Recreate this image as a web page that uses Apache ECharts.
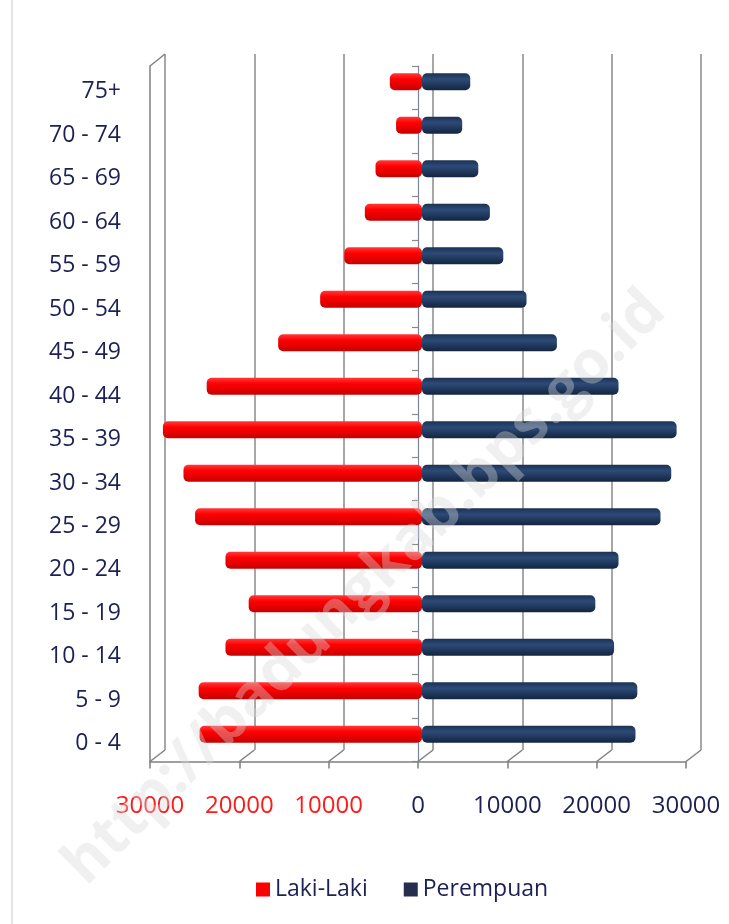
<!DOCTYPE html>
<html><head><meta charset="utf-8">
<script src="https://cdn.jsdelivr.net/npm/echarts@6/dist/echarts.min.js"></script>
<style>html,body{margin:0;padding:0;background:#fff}#c{width:729px;height:924px}</style>
</head><body><div id="c"></div>
<script>
// ---- data ----
const categories = ['0 - 4','5 - 9','10 - 14','15 - 19','20 - 24','25 - 29','30 - 34','35 - 39','40 - 44','45 - 49','50 - 54','55 - 59','60 - 64','65 - 69','70 - 74','75+'];
const maleValues   = [24900, 25000, 22000, 19400, 22000, 25400, 26700, 29000, 24100, 16100, 11400, 8700, 6400, 5200, 2900, 3600];
const femaleValues = [23900, 24100, 21500, 19400, 22000, 26700, 27900, 28500, 22000, 15100, 11700, 9100, 7600, 6300, 4500, 5400];
const tickValues = [-30000, -20000, -10000, 0, 10000, 20000, 30000];
const seriesNames = ['Laki-Laki', 'Perempuan'];
const watermark = 'http://badungkab.bps.go.id';

// ---- style ----
const FONT = "'Open Sans', 'Noto Sans', sans-serif";
const NAVY_TEXT = '#1c2054';
const RED_TEXT = '#ff1a1a';
const GRID_GRAY = '#8a8a8a';
const FRAME_GRAY = '#7f7f7f';
const AX_MIN = tickValues[0], AX_MAX = tickValues[tickValues.length - 1], AX_INT = 10000;

const front  = {left: 150, width: 536, top: 66, height: 695.5};
const back   = {left: 165, width: 536, top: 54, height: 696};
const bars   = {left: 154, width: 536, top: 60, height: 696};
const labels = {left: 150, width: 536, top: 70, height: 695.5};

const redGrad = new echarts.graphic.LinearGradient(0, 0, 0, 1, [
  {offset: 0, color: '#ff3a3a'}, {offset: 0.35, color: '#ff0000'}, {offset: 1, color: '#c80000'}]);
const navyGrad = new echarts.graphic.LinearGradient(0, 0, 0, 1, [
  {offset: 0, color: '#1b3152'}, {offset: 0.35, color: '#2d4b78'}, {offset: 1, color: '#132440'}]);

function valueAxis(gridIndex, extra) {
  return Object.assign({
    type: 'value', gridIndex, min: AX_MIN, max: AX_MAX, interval: AX_INT,
    axisLine: {show: false}, axisTick: {show: false}, axisLabel: {show: false}, splitLine: {show: false}
  }, extra || {});
}

// decorative 3D frame connectors, derived from the front/back grid layouts
const frameGraphics = [];
const depthDx = back.left - front.left;
tickValues.forEach(v => {
  const fx = front.left + (v - AX_MIN) / (AX_MAX - AX_MIN) * front.width;
  const fy = front.top + front.height;
  frameGraphics.push({type: 'line', shape: {x1: fx, y1: fy, x2: fx + depthDx, y2: back.top + back.height},
    style: {stroke: FRAME_GRAY, lineWidth: 1.5}, z: 5});
});
frameGraphics.push({type: 'line', shape: {x1: front.left, y1: front.top, x2: back.left, y2: back.top},
  style: {stroke: FRAME_GRAY, lineWidth: 1.5}, z: 5});
frameGraphics.push({type: 'line', shape: {x1: 12, y1: 0, x2: 12, y2: 924},
  style: {stroke: '#dcdcdc', lineWidth: 1.5}, z: 1});
frameGraphics.push({type: 'text', x: 365, y: 588, rotation: Math.PI / 4 * 0.99, z: 100,
  style: {text: watermark, font: "bold 60px 'Open Sans', sans-serif", fill: 'rgba(215,215,215,0.38)',
    align: 'center', verticalAlign: 'middle'}});

const chart = echarts.init(document.getElementById('c'), null, {renderer: 'canvas'});
chart.setOption({
  animation: false,
  backgroundColor: '#ffffff',
  textStyle: {fontFamily: FONT},
  grid: [bars, back, front, labels],
  xAxis: [
    valueAxis(0),
    valueAxis(1, {splitLine: {show: true, lineStyle: {color: GRID_GRAY, width: 1.5}}}),
    valueAxis(2, {
      position: 'bottom',
      axisLine: {show: true, onZero: false, lineStyle: {color: FRAME_GRAY, width: 1.5}},
      axisTick: {show: true, length: 7, lineStyle: {color: FRAME_GRAY, width: 1.5}},
      axisLabel: {show: true, margin: 33, fontSize: 24, fontFamily: FONT,
        formatter: v => String(Math.abs(v)),
        color: v => (Number(v) < 0 ? RED_TEXT : NAVY_TEXT)}
    }),
    valueAxis(3)
  ],
  yAxis: [
    {type: 'category', gridIndex: 0, data: categories, show: false},
    {type: 'category', gridIndex: 1, data: categories, show: false},
    {type: 'category', gridIndex: 2, data: categories, position: 'left',
      axisLine: {show: true, onZero: false, lineStyle: {color: FRAME_GRAY, width: 1.5}},
      axisTick: {show: false}, axisLabel: {show: false}},
    {type: 'category', gridIndex: 2, data: categories, position: 'left',
      axisLine: {show: true, onZero: true, lineStyle: {color: '#7d8496', width: 1.2}},
      axisTick: {show: true, length: 6, lineStyle: {color: GRID_GRAY, width: 1.2}},
      axisLabel: {show: false}},
    {type: 'category', gridIndex: 3, data: categories, position: 'left',
      axisLine: {show: false, onZero: false}, axisTick: {show: false},
      axisLabel: {margin: 29, fontSize: 23, color: NAVY_TEXT, fontFamily: FONT}}
  ],
  legend: {
    data: [
      {name: seriesNames[0], itemStyle: {color: '#ff0000'}},
      {name: seriesNames[1], itemStyle: {color: '#262d4f'}}
    ],
    left: 251, top: 873, icon: 'rect', itemWidth: 14, itemHeight: 14, itemGap: 36,
    textStyle: {fontSize: 23, color: NAVY_TEXT, fontFamily: FONT}
  },
  series: [
    {name: seriesNames[0], type: 'bar', xAxisIndex: 0, yAxisIndex: 0, stack: 'pop', barWidth: 17,
      data: maleValues.map(v => -v), itemStyle: {color: redGrad, borderRadius: 5}, z: 3},
    {name: seriesNames[1], type: 'bar', xAxisIndex: 0, yAxisIndex: 0, stack: 'pop', barWidth: 17,
      data: femaleValues, itemStyle: {color: navyGrad, borderRadius: 5}, z: 3}
  ],
  graphic: frameGraphics
});
</script></body></html>
